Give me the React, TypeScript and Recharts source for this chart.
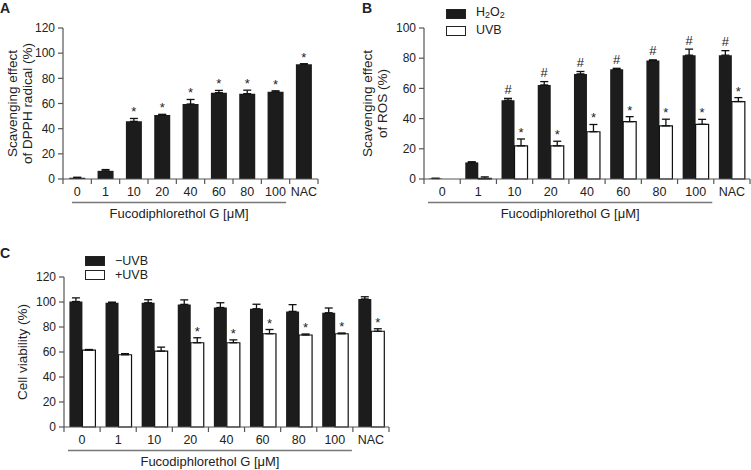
import React from 'react';
import { Bar, BarChart, ErrorBar, LabelList, Legend, XAxis, YAxis } from 'recharts';

const FONT = '"Liberation Sans", Arial, Helvetica, sans-serif';
const INK = '#222';
const AXIS = '#555';
const DARK = '#1c1c1c';

const doses = ['0', '1', '10', '20', '40', '60', '80', '100', 'NAC'];

// A: DPPH radical scavenging
const dpphMean = [1, 6.5, 45.8, 50.8, 59.6, 68.6, 67.8, 69.3, 91.2];
const dpphErr = [0.4, 1, 2.3, 0.6, 3.6, 1.8, 2.8, 0.8, 0.4];
const dpphMark = ['', '', '*', '*', '*', '*', '*', '*', '*'];

// B: ROS scavenging
const rosH2o2 = [0.3, 11, 52.2, 62.3, 69.6, 72.6, 78.4, 82, 82];
const rosH2o2Err = [0.2, 0.4, 1.2, 2.2, 1.6, 0.7, 0.5, 4, 3];
const rosH2o2Mark = ['', '', '#', '#', '#', '#', '#', '#', '#'];
const rosUvb = [0, 0.4, 22, 22, 31.3, 38, 35.2, 36.2, 51.3];
const rosUvbErr = [0, 1, 4.5, 3, 4.8, 3.3, 4.4, 3.3, 2.6];
const rosUvbMark = ['', '', '*', '*', '*', '*', '*', '*', '*'];

// C: cell viability
const viaNoUvb = [100.4, 99.4, 99.4, 98.1, 95.6, 94.6, 92.5, 91.4, 102.4];
const viaNoUvbErr = [2.9, 0.5, 2.4, 3.6, 3.8, 3.6, 5.4, 3.8, 1.8];
const viaUvb = [61.5, 57.8, 60.7, 67.4, 67.4, 74.6, 73.6, 74.6, 76.6];
const viaUvbErr = [0.5, 0.9, 3.2, 4, 2.3, 3.4, 0.8, 0.6, 2];
const viaUvbMark = ['', '', '', '*', '*', '*', '*', '*', '*'];

const rosNames = ['H2O2', 'UVB'];
const viaNames = ['−UVB', '+UVB'];

const dpphData = doses.map((dose, i) => ({
  dose,
  mean: dpphMean[i],
  err: [0, dpphErr[i]],
  gap: dpphErr[i],
  mark: dpphMark[i],
}));

const rosData = doses.map((dose, i) => ({
  dose,
  h2o2: rosH2o2[i],
  h2o2Err: [0, rosH2o2Err[i]],
  h2o2Gap: rosH2o2Err[i],
  h2o2Mark: rosH2o2Mark[i],
  uvb: rosUvb[i],
  uvbErr: [0, rosUvbErr[i]],
  uvbGap: rosUvbErr[i],
  uvbMark: rosUvbMark[i],
}));

const viaData = doses.map((dose, i) => ({
  dose,
  noUvb: viaNoUvb[i],
  noUvbErr: [0, viaNoUvbErr[i]],
  uvb: viaUvb[i],
  uvbErr: [0, viaUvbErr[i]],
  uvbGap: viaUvbErr[i],
  uvbMark: viaUvbMark[i],
}));

const makeXTick = (band: number, count: number) => (props: any) => {
  const { x, y, payload } = props;
  const idx = payload?.index ?? props.index;
  return (
    <g>
      <line x1={x - band / 2} y1={y} x2={x - band / 2} y2={y + 5} stroke={AXIS} strokeWidth={1.2} />
      {idx === count - 1 && (
        <line x1={x + band / 2} y1={y} x2={x + band / 2} y2={y + 5} stroke={AXIS} strokeWidth={1.2} />
      )}
      <text x={x} y={y + 17} textAnchor="middle" fontSize={12.5} fill={INK} fontFamily={FONT}>
        {payload.value}
      </text>
    </g>
  );
};

const makeXTitle = (band: number, startOff: number, endTrim: number) => (props: any) => {
  const { x, y } = props.viewBox;
  const x1 = x + startOff;
  const x2 = x + band * 8 - endTrim;
  return (
    <g>
      <line x1={x1} y1={y + 23.5} x2={x2} y2={y + 23.5} stroke="#777" strokeWidth={1.5} />
      <text x={(x1 + x2) / 2} y={y + 39} textAnchor="middle" fontSize={13} fill={INK} fontFamily={FONT}>
        Fucodiphlorethol G [μM]
      </text>
    </g>
  );
};

const makeYTitle = (lines: string[], xs: number[]) => (props: any) => {
  const { y, height } = props.viewBox;
  const cy = y + height / 2;
  return (
    <g>
      {lines.map((line, i) => (
        <text
          key={line}
          x={xs[i]}
          y={cy}
          dy="0.35em"
          transform={`rotate(-90 ${xs[i]} ${cy})`}
          textAnchor="middle"
          fontSize={13.5}
          fill={INK}
          fontFamily={FONT}
        >
          {line}
        </text>
      ))}
    </g>
  );
};

const makeMark = (lift: number) => (props: any) => {
  const vb = props.viewBox ?? props;
  if (!props.value) return null;
  return (
    <text x={vb.x + vb.width / 2} y={vb.y - lift} textAnchor="middle" fontSize={13} fill={INK} fontFamily={FONT}>
      {props.value}
    </text>
  );
};

const withSubs = (name: string) =>
  name.split(/(\d)/).map((part, i) =>
    /\d/.test(part) ? (
      <sub key={i} style={{ fontSize: '0.72em', verticalAlign: '-0.25em' }}>
        {part}
      </sub>
    ) : (
      <span key={i}>{part}</span>
    ),
  );

const makeLegend = (rowH: number, order: string[]) => (props: any) => {
  const items = (props.payload || [])
    .filter((p: any) => p.type !== 'none')
    .sort((a: any, b: any) => order.indexOf(a.value) - order.indexOf(b.value));
  return (
    <div style={{ fontFamily: FONT, fontSize: 12.5, color: INK, lineHeight: 1 }}>
      {items.map((it: any) => (
        <div key={it.value} style={{ display: 'flex', alignItems: 'center', height: rowH }}>
          <span
            style={{
              display: 'inline-block',
              boxSizing: 'border-box',
              width: 20,
              height: 10,
              background: it.color,
              border: '1.2px solid #222',
            }}
          />
          <span style={{ marginLeft: 10 }}>{withSubs(it.value)}</span>
        </div>
      ))}
    </div>
  );
};

const yTick = { fontSize: 12, fill: INK, fontFamily: FONT };
const axisLine = { stroke: AXIS, strokeWidth: 1.2 };

const Letter = ({ text, left, top }: { text: string; left: number; top: number }) => (
  <div style={{ position: 'absolute', left, top, fontFamily: FONT, fontWeight: 'bold', fontSize: 14, color: INK }}>
    {text}
  </div>
);

const A_BAND = (318 - 63) / 9;
const B_BAND = (750 - 424) / 9;
const C_BAND = (389 - 64) / 9;

export default function App() {
  return (
    <div style={{ position: 'absolute', left: 0, top: 0, width: 751, height: 470, background: '#fff' }}>
      <Letter text="A" left={0} top={0} />
      <Letter text="B" left={362} top={0} />
      <Letter text="C" left={0} top={245} />

      <div style={{ position: 'absolute', left: 0, top: 0 }}>
        <BarChart
          width={330}
          height={222}
          data={dpphData}
          margin={{ top: 28, right: 12, bottom: 0, left: 0 }}
          barCategoryGap="22%"
        >
          <XAxis
            dataKey="dose"
            height={43}
            interval={0}
            tickLine={false}
            tickSize={0}
            tickMargin={0}
            axisLine={axisLine}
            tick={makeXTick(A_BAND, 9)}
            label={makeXTitle(A_BAND, 9, 3.5)}
          />
          <YAxis
            width={63}
            domain={[0, 120]}
            ticks={[0, 20, 40, 60, 80, 100, 120]}
            tickSize={5}
            tickMargin={3}
            tickLine={axisLine}
            axisLine={axisLine}
            tick={yTick}
            label={makeYTitle(['Scavenging effect', 'of DPPH radical (%)'], [12, 27])}
          />
          <Bar dataKey="mean" stackId="a" fill={DARK} isAnimationActive={false}>
            <ErrorBar dataKey="err" width={4} stroke="#111" strokeWidth={1.3} direction="y" />
          </Bar>
          <Bar dataKey="gap" stackId="a" fill="transparent" legendType="none" isAnimationActive={false}>
            <LabelList dataKey="mark" content={makeMark(2)} />
          </Bar>
        </BarChart>
      </div>

      <div style={{ position: 'absolute', left: 340, top: 0 }}>
        <BarChart
          width={411}
          height={222}
          data={rosData}
          margin={{ top: 28, right: 1, bottom: 0, left: 0 }}
          barCategoryGap="14%"
          barGap={0}
        >
          <XAxis
            dataKey="dose"
            height={43}
            interval={0}
            tickLine={false}
            tickSize={0}
            tickMargin={0}
            axisLine={axisLine}
            tick={makeXTick(B_BAND, 9)}
            label={makeXTitle(B_BAND, 4, 1.5)}
          />
          <YAxis
            width={84}
            domain={[0, 100]}
            ticks={[0, 20, 40, 60, 80, 100]}
            tickSize={5}
            tickMargin={3}
            tickLine={axisLine}
            axisLine={axisLine}
            tick={yTick}
            label={makeYTitle(['Scavenging effect', 'of ROS (%)'], [27.5, 42])}
          />
          <Legend
            layout="vertical"
            align="center"
            verticalAlign="middle"
            wrapperStyle={{ left: 106, top: 5, width: 120 }}
            content={makeLegend(17, rosNames)}
          />
          <Bar dataKey="h2o2" name={rosNames[0]} stackId="h" fill={DARK} isAnimationActive={false}>
            <ErrorBar dataKey="h2o2Err" width={4} stroke="#111" strokeWidth={1.3} direction="y" />
          </Bar>
          <Bar dataKey="h2o2Gap" stackId="h" fill="transparent" legendType="none" isAnimationActive={false}>
            <LabelList dataKey="h2o2Mark" content={makeMark(4.5)} />
          </Bar>
          <Bar dataKey="uvb" name={rosNames[1]} stackId="u" fill="#fff" stroke="#111" strokeWidth={1.2} isAnimationActive={false}>
            <ErrorBar dataKey="uvbErr" width={4} stroke="#111" strokeWidth={1.3} direction="y" />
          </Bar>
          <Bar dataKey="uvbGap" stackId="u" fill="transparent" legendType="none" isAnimationActive={false}>
            <LabelList dataKey="uvbMark" content={makeMark(2)} />
          </Bar>
        </BarChart>
      </div>

      <div style={{ position: 'absolute', left: 0, top: 230 }}>
        <BarChart
          width={400}
          height={240}
          data={viaData}
          margin={{ top: 47, right: 11, bottom: 0, left: 0 }}
          barCategoryGap="15%"
          barGap={0}
        >
          <XAxis
            dataKey="dose"
            height={43}
            interval={0}
            tickLine={false}
            tickSize={0}
            tickMargin={0}
            axisLine={axisLine}
            tick={makeXTick(C_BAND, 9)}
            label={makeXTitle(C_BAND, 4, 1)}
          />
          <YAxis
            width={64}
            domain={[0, 120]}
            ticks={[0, 20, 40, 60, 80, 100, 120]}
            tickSize={5}
            tickMargin={3}
            tickLine={axisLine}
            axisLine={axisLine}
            tick={yTick}
            label={makeYTitle(['Cell viability (%)'], [22])}
          />
          <Legend
            layout="vertical"
            align="center"
            verticalAlign="middle"
            wrapperStyle={{ left: 85, top: 23.5, width: 120 }}
            content={makeLegend(14.5, viaNames)}
          />
          <Bar dataKey="noUvb" name={viaNames[0]} stackId="n" fill={DARK} isAnimationActive={false}>
            <ErrorBar dataKey="noUvbErr" width={4} stroke="#111" strokeWidth={1.3} direction="y" />
          </Bar>
          <Bar dataKey="uvb" name={viaNames[1]} stackId="u" fill="#fff" stroke="#111" strokeWidth={1.2} isAnimationActive={false}>
            <ErrorBar dataKey="uvbErr" width={4} stroke="#111" strokeWidth={1.3} direction="y" />
          </Bar>
          <Bar dataKey="uvbGap" stackId="u" fill="transparent" legendType="none" isAnimationActive={false}>
            <LabelList dataKey="uvbMark" content={makeMark(2)} />
          </Bar>
        </BarChart>
      </div>
    </div>
  );
}
